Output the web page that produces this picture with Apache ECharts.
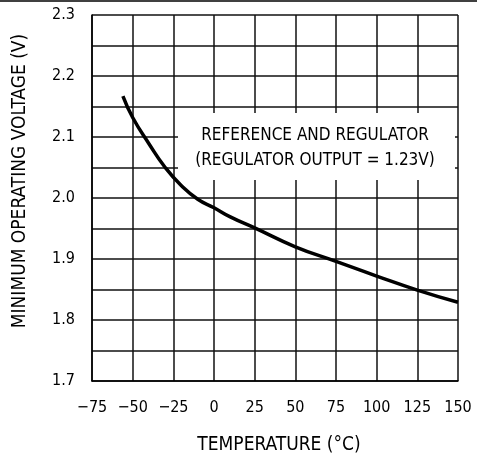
<!DOCTYPE html>
<html><head><meta charset="utf-8">
<script src="https://cdn.jsdelivr.net/npm/echarts@6/dist/echarts.min.js"></script>
<style>html,body{margin:0;padding:0;background:#fff}#c{width:477px;height:455px}</style>
</head><body><div id="c"></div>
<script>
const temperature = [-56, -50, -40, -30, -20, -10, 0, 10, 25, 50, 75, 100, 125, 150];
const minVoltage = [2.167, 2.132, 2.089, 2.05, 2.02, 1.998, 1.984, 1.969, 1.951, 1.920, 1.896, 1.872, 1.849, 1.829];
const xTicks = [-75, -50, -25, 0, 25, 50, 75, 100, 125, 150];
const yTicks = [1.7, 1.8, 1.9, 2.0, 2.1, 2.2, 2.3];
const xTitle = 'TEMPERATURE (°C)';
const yTitle = 'MINIMUM OPERATING VOLTAGE (V)';
const annotation = ['REFERENCE AND REGULATOR', '(REGULATOR OUTPUT = 1.23V)'];

const FONT = "'DejaVu Sans Condensed','Liberation Sans Narrow','DejaVu Sans',sans-serif";
const chart = echarts.init(document.getElementById('c'), null, {renderer: 'canvas'});
chart.setOption({
  animation: false,
  backgroundColor: '#fff',
  grid: {left: 92, right: 19, top: 15, bottom: 74, containLabel: false, outerBoundsMode: 'none'},
  xAxis: {
    type: 'value', min: xTicks[0], max: xTicks[xTicks.length - 1], interval: 25,
    axisLine: {show: true, onZero: false, lineStyle: {color: '#000', width: 1.5}},
    axisTick: {show: false},
    axisLabel: {fontFamily: FONT, fontSize: 16, color: '#000', margin: 19,
      formatter: v => String(v).replace('-', '\u2212')},
    splitLine: {show: true, lineStyle: {color: '#111', width: 1.5}}
  },
  yAxis: {
    type: 'value', min: 1.7, max: 2.3, interval: 0.05,
    axisLine: {show: true, onZero: false, lineStyle: {color: '#000', width: 1.5}},
    axisTick: {show: false},
    axisLabel: {fontFamily: FONT, fontSize: 16, color: '#000', margin: 17,
      formatter: v => {
        const t = yTicks.find(y => Math.abs(y - v) < 1e-6);
        return t === undefined ? '' : t.toFixed(1);
      }},
    splitLine: {show: true, lineStyle: {color: '#111', width: 1.5}}
  },
  graphic: [
    {type: 'line', shape: {x1: 0, y1: 1, x2: 477, y2: 1}, style: {stroke: '#000', lineWidth: 1.5}, z: 10},
    {type: 'rect', shape: {x: 178, y: 113, width: 277, height: 67}, style: {fill: '#fff'}, z: 5},
    {type: 'text', x: 315, y: 136, style: {text: annotation[0], fontFamily: FONT, fontSize: 17, fill: '#000', align: 'center', verticalAlign: 'middle'}, z: 6},
    {type: 'text', x: 315, y: 161, style: {text: annotation[1], fontFamily: FONT, fontSize: 17, fill: '#000', align: 'center', verticalAlign: 'middle'}, z: 6},
    {type: 'text', x: 279, y: 445, style: {text: xTitle, fontFamily: FONT, fontSize: 19, fill: '#000', align: 'center', verticalAlign: 'middle'}, z: 6},
    {type: 'text', x: 20, y: 181, rotation: Math.PI / 2, style: {text: yTitle, fontFamily: FONT, fontSize: 19, fill: '#000', align: 'center', verticalAlign: 'middle'}, z: 6}
  ],
  series: [{
    type: 'line', smooth: true, symbol: 'none', z: 8,
    data: temperature.map((t, i) => [t, minVoltage[i]]),
    lineStyle: {color: '#000', width: 3.5}
  }]
});
</script></body></html>
